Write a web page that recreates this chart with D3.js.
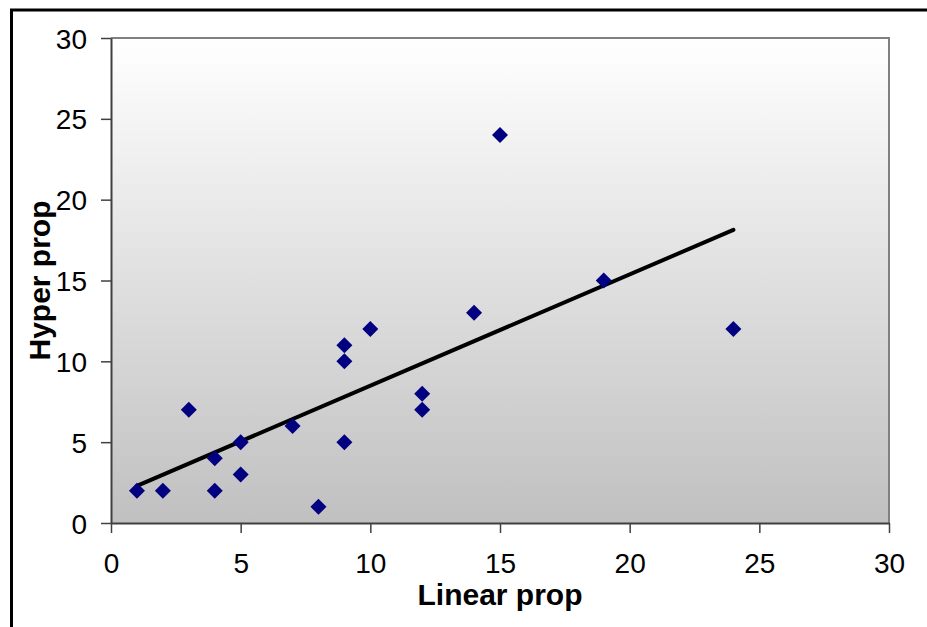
<!DOCTYPE html>
<html>
<head>
<meta charset="utf-8">
<script src="https://cdn.jsdelivr.net/npm/d3@7"></script>
<style>
  html, body { margin: 0; padding: 0; background: #fff; }
  svg { display: block; }
</style>
</head>
<body>
<svg id="chart" width="927" height="627"></svg>
<script>
const linearProp = [1, 2, 3, 4, 4, 5, 5, 7, 8, 9, 9, 9, 10, 12, 12, 14, 15, 19, 24];
const hyperProp  = [2, 2, 7, 4, 2, 5, 3, 6, 1, 11, 10, 5, 12, 8, 7, 13, 24, 15, 12];
const xTicks = [0, 5, 10, 15, 20, 25, 30];
const yTicks = [0, 5, 10, 15, 20, 25, 30];
const xTitle = "Linear prop";
const yTitle = "Hyper prop";

const svg = d3.select("#chart");
const plot = { left: 111, top: 38, right: 889, bottom: 523 };

const x = d3.scaleLinear().domain([0, 30]).range([plot.left, plot.right]);
const y = d3.scaleLinear().domain([0, 30]).range([plot.bottom, plot.top]);

// outer chart border (extends past right/bottom edges)
svg.append("rect")
  .attr("x", 11.5).attr("y", 10).attr("width", 1000).attr("height", 700)
  .attr("fill", "none").attr("stroke", "#000").attr("stroke-width", 3);

// gradient
const defs = svg.append("defs");
const grad = defs.append("linearGradient").attr("id", "bg")
  .attr("x1", 0).attr("y1", 0).attr("x2", 0).attr("y2", 1);
grad.append("stop").attr("offset", "0%").attr("stop-color", "#ffffff");
grad.append("stop").attr("offset", "100%").attr("stop-color", "#c0c0c0");

svg.append("rect")
  .attr("x", plot.left).attr("y", plot.top)
  .attr("width", plot.right - plot.left).attr("height", plot.bottom - plot.top)
  .attr("fill", "url(#bg)");

// top/right border gray
svg.append("path")
  .attr("d", `M${plot.left},${plot.top}H${plot.right}V${plot.bottom}`)
  .attr("fill", "none").attr("stroke", "#808080").attr("stroke-width", 2);

// axes
const fontFam = "'Liberation Sans', Arial, sans-serif";
const xAxis = d3.axisBottom(x).tickValues(xTicks).tickSizeInner(10).tickSizeOuter(0).tickPadding(20);
const yAxis = d3.axisLeft(y).tickValues(yTicks).tickSizeInner(10).tickSizeOuter(0).tickPadding(14);

const gx = svg.append("g").attr("transform", `translate(0,${plot.bottom})`).call(xAxis);
const gy = svg.append("g").attr("transform", `translate(${plot.left},0)`).call(yAxis);
[gx, gy].forEach(g => {
  g.select(".domain").attr("stroke", "#404040").attr("stroke-width", 2);
  g.selectAll(".tick line").attr("stroke", "#404040").attr("stroke-width", 1.5);
  g.selectAll(".tick text").attr("fill", "#000").style("font-family", fontFam).style("font-size", "28px");
});
gy.selectAll(".tick text").attr("dy", "0.36em");

// trendline via least squares
const n = linearProp.length;
const mx = d3.mean(linearProp), my = d3.mean(hyperProp);
let sxy = 0, sxx = 0;
for (let i = 0; i < n; i++) { sxy += (linearProp[i]-mx)*(hyperProp[i]-my); sxx += (linearProp[i]-mx)**2; }
const slope = sxy / sxx, intercept = my - slope * mx;
const x0 = d3.min(linearProp), x1 = d3.max(linearProp);
svg.append("line")
  .attr("x1", x(x0)).attr("y1", y(intercept + slope * x0))
  .attr("x2", x(x1)).attr("y2", y(intercept + slope * x1))
  .attr("stroke", "#000").attr("stroke-width", 4).attr("stroke-linecap", "round");

// diamonds
const r = 8;
svg.append("g").selectAll("path").data(linearProp.map((v, i) => [v, hyperProp[i]]))
  .join("path")
  .attr("d", d => `M${x(d[0])},${y(d[1]) - r}L${x(d[0]) + r},${y(d[1])}L${x(d[0])},${y(d[1]) + r}L${x(d[0]) - r},${y(d[1])}Z`)
  .attr("fill", "#000080");

// titles
svg.append("text").attr("x", (plot.left + plot.right) / 2).attr("y", 605)
  .attr("text-anchor", "middle").style("font-family", fontFam)
  .style("font-size", "30px").style("font-weight", "bold").text(xTitle);
svg.append("text").attr("transform", `translate(50,${(plot.top + plot.bottom) / 2}) rotate(-90)`)
  .attr("text-anchor", "middle").style("font-family", fontFam)
  .style("font-size", "30px").style("font-weight", "bold").text(yTitle);
</script>
</body>
</html>
